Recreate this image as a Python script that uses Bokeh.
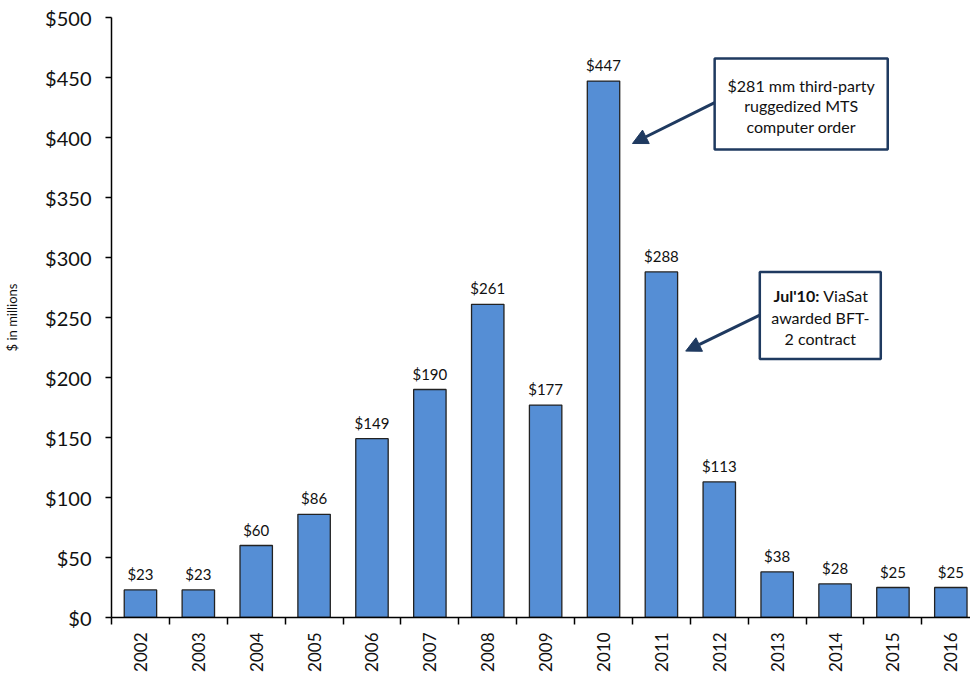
import math
from bokeh.plotting import figure
from bokeh.models import (Range1d, FixedTicker, NumeralTickFormatter, LabelSet,
                          ColumnDataSource, Label, BoxAnnotation, Arrow, NormalHead)
from bokeh.core.properties import value
from bokeh.embed import file_html
from bokeh.resources import INLINE

# ---- data ----
years = ["2002", "2003", "2004", "2005", "2006", "2007", "2008", "2009",
         "2010", "2011", "2012", "2013", "2014", "2015", "2016"]
values = [23, 23, 60, 86, 149, 190, 261, 177, 447, 288, 113, 38, 28, 25, 25]
y_ticks = [0, 50, 100, 150, 200, 250, 300, 350, 400, 450, 500]
y_label = "$ in millions"

note1_lines = ["$281 mm third-party", "ruggedized MTS", "computer order"]
note2_bold = "Jul'10:"
note2_first = "ViaSat"
note2_lines = ["awarded BFT-", "2 contract"]

FONT = "Lato"
BAR = "#558ED5"
NAVY = "#1F3A60"

idx = list(range(len(years)))
src = ColumnDataSource(dict(x=idx, top=values, lab=[f"${v}" for v in values]))

p = figure(width=970, height=675, output_backend="svg", toolbar_location=None,
           x_range=Range1d(-0.5, 14.34), y_range=Range1d(0, 500),
           min_border_left=111, min_border_right=0, min_border_top=17,
           min_border_bottom=58)
p.outline_line_color = None
p.grid.visible = False
p.background_fill_color = "white"
p.border_fill_color = "white"

p.vbar(x="x", top="top", width=0.56, bottom=0, source=src,
       fill_color=BAR, line_color="#222222", line_width=1.3)

p.add_layout(LabelSet(x="x", y="top", text="lab", source=src, y_offset=7,
                      text_align="center", text_baseline="bottom",
                      text_font=value(FONT), text_font_size=value("15px"),
                      text_color="#111111"))

# x axis
xa = p.xaxis[0]
xa.ticker = FixedTicker(ticks=idx, minor_ticks=[i - 0.5 for i in range(len(years) + 1)])
xa.major_label_overrides = {i: y for i, y in enumerate(years)}
xa.major_label_orientation = math.pi / 2
xa.major_tick_out = 7
xa.major_tick_in = 0
xa.major_tick_line_color = None
xa.minor_tick_out = 7
xa.minor_tick_in = 0
xa.minor_tick_line_color = "black"
xa.minor_tick_line_width = 1.5
xa.major_label_standoff = 8
xa.major_label_text_font = FONT
xa.major_label_text_font_size = "17px"
xa.major_label_text_color = "#111111"
xa.axis_line_color = "black"
xa.axis_line_width = 1.5

# y axis
ya = p.yaxis[0]
ya.ticker = FixedTicker(ticks=y_ticks, minor_ticks=[])
ya.formatter = NumeralTickFormatter(format="$0")
ya.major_tick_out = 6
ya.major_tick_in = 0
ya.major_tick_line_width = 1.5
ya.major_label_standoff = 14
ya.major_label_text_font = FONT
ya.major_label_text_font_size = "20px"
ya.major_label_text_color = "#111111"
ya.axis_line_color = "black"
ya.axis_line_width = 1.5
ya.axis_label = y_label
ya.axis_label_text_font = FONT
ya.axis_label_text_font_size = "13px"
ya.axis_label_text_font_style = "normal"
ya.axis_label_standoff = 22
ya.axis_label_text_color = "#111111"

# ---- annotations ----
head1 = NormalHead(size=15, fill_color=NAVY, line_color=NAVY)
p.add_layout(Arrow(end=head1, x_start=9.92, y_start=429, x_end=8.5, y_end=395,
                   line_color=NAVY, line_width=3))
head2 = NormalHead(size=15, fill_color=NAVY, line_color=NAVY)
p.add_layout(Arrow(end=head2, x_start=10.70, y_start=252, x_end=9.42, y_end=222,
                   line_color=NAVY, line_width=3))

p.add_layout(BoxAnnotation(left=9.92, right=12.91, bottom=390, top=465.8,
                           fill_color="white", fill_alpha=1.0,
                           line_color=NAVY, line_alpha=1.0, line_width=2.5))
p.add_layout(BoxAnnotation(left=10.70, right=12.79, bottom=215.4, top=287.9,
                           fill_color="white", fill_alpha=1.0,
                           line_color=NAVY, line_alpha=1.0, line_width=2.5))

c1x = (9.92 + 12.91) / 2
c1y = (390 + 465.8) / 2
for line, off in zip(note1_lines, [19, -1, -22]):
    p.add_layout(Label(x=c1x, y=c1y, y_offset=off, text=line, text_align="center",
                       text_baseline="middle", text_font=FONT, text_font_size="16px",
                       text_color="#111111"))

c2x = (10.70 + 12.79) / 2
c2y = (215.4 + 287.9) / 2
p.add_layout(Label(x=c2x, y=c2y, x_offset=-1, y_offset=20, text=note2_bold,
                   text_align="right", text_baseline="middle", text_font=FONT,
                   text_font_size="16px", text_font_style="bold", text_color="#111111"))
p.add_layout(Label(x=c2x, y=c2y, x_offset=3, y_offset=20, text=note2_first,
                   text_align="left", text_baseline="middle", text_font=FONT,
                   text_font_size="16px", text_color="#111111"))
for line, off in zip(note2_lines, [-2, -23]):
    p.add_layout(Label(x=c2x, y=c2y, y_offset=off, text=line, text_align="center",
                       text_baseline="middle", text_font=FONT, text_font_size="16px",
                       text_color="#111111"))

open("out.html", "w").write(file_html(p, INLINE))
